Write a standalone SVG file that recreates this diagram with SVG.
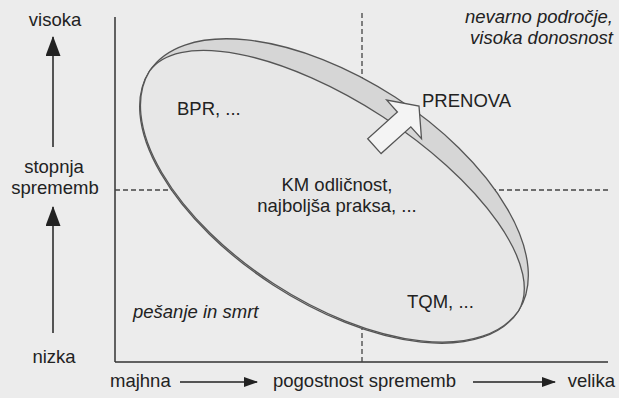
<svg xmlns="http://www.w3.org/2000/svg" width="619" height="398" viewBox="0 0 619 398">
  <defs>
    <style>
      .t { font-family: "Liberation Sans", Arial, sans-serif; font-size: 18.5px; fill: #222; }
      .i { font-style: italic; }
      .ax { stroke: #333; stroke-width: 1.5; fill: none; }
      .dash { stroke: #444; stroke-width: 1.3; stroke-dasharray: 5 3; fill: none; }
      .edge { stroke: #555; stroke-width: 1.3; }
      .arr { stroke: #222; stroke-width: 1.5; fill: none; }
    </style>
    <marker id="headV" viewBox="0 0 20 15" refX="19" refY="7.5" markerWidth="20" markerHeight="15" markerUnits="userSpaceOnUse" orient="auto">
      <path d="M0,0 L20,7.5 L0,15 Z" fill="#222"/>
    </marker>
    <marker id="headH" viewBox="0 0 14 10" refX="13" refY="5" markerWidth="14" markerHeight="10" markerUnits="userSpaceOnUse" orient="auto">
      <path d="M0,0 L14,5 L0,10 Z" fill="#222"/>
    </marker>
  </defs>
  <rect x="0" y="0" width="619" height="398" fill="#ececec"/>

  <g id="axes">
    <line class="ax" x1="115" y1="17" x2="115" y2="362"/>
    <line class="ax" x1="115" y1="362" x2="608" y2="362"/>
    <line class="dash" x1="362" y1="13" x2="362" y2="362"/>
    <line class="dash" x1="115" y1="190" x2="608" y2="190"/>
  </g>

  <g id="ring">
    <ellipse class="edge" cx="334" cy="191" rx="220" ry="112" transform="rotate(33 334 191)" fill="#d6d6d6"/>
    <path class="edge" fill="#e7e7e7" d="M149.5,71.2 A220,112 33 0 0 518.5,310.8 A220,90 33 0 0 149.5,71.2 Z"/>
  </g>

  <g id="prenova-arrow">
    <polygon class="edge" fill="#f4f4f4" points="419,106 421.5,138.7 410.8,126.8 381.1,153.6 367.7,138.8 397.4,112 386.7,100.1"/>
  </g>

  <g id="connectors">
    <line class="arr" x1="53" y1="147" x2="53" y2="37" marker-end="url(#headV)"/>
    <line class="arr" x1="53" y1="333" x2="53" y2="207" marker-end="url(#headV)"/>
    <line class="arr" x1="180" y1="382" x2="257" y2="382" marker-end="url(#headH)"/>
    <line class="arr" x1="473" y1="382" x2="555" y2="382" marker-end="url(#headH)"/>
  </g>

  <g id="y-labels">
    <text class="t" x="55" y="26" text-anchor="middle">visoka</text>
    <text class="t" x="54" y="173" text-anchor="middle">stopnja</text>
    <text class="t" x="55" y="194" text-anchor="middle">sprememb</text>
    <text class="t" x="54" y="363" text-anchor="middle">nizka</text>
  </g>

  <g id="x-labels">
    <text class="t" x="110" y="387">majhna</text>
    <text class="t" x="273" y="387">pogostnost sprememb</text>
    <text class="t" x="615" y="387" text-anchor="end">velika</text>
  </g>

  <g id="region-high">
    <text class="t i" x="613" y="23" text-anchor="end">nevarno področje,</text>
    <text class="t i" x="613" y="44" text-anchor="end">visoka donosnost</text>
  </g>
  <g id="node-bpr"><text class="t" x="177" y="115">BPR, ...</text></g>
  <g id="node-prenova"><text class="t" x="422" y="107">PRENOVA</text></g>
  <g id="node-km">
    <text class="t" x="337" y="191" text-anchor="middle">KM odličnost,</text>
    <text class="t" x="337" y="212" text-anchor="middle">najboljša praksa, ...</text>
  </g>
  <g id="node-tqm"><text class="t" x="407" y="308">TQM, ...</text></g>
  <g id="region-low"><text class="t i" x="133" y="318">pešanje in smrt</text></g>
</svg>
